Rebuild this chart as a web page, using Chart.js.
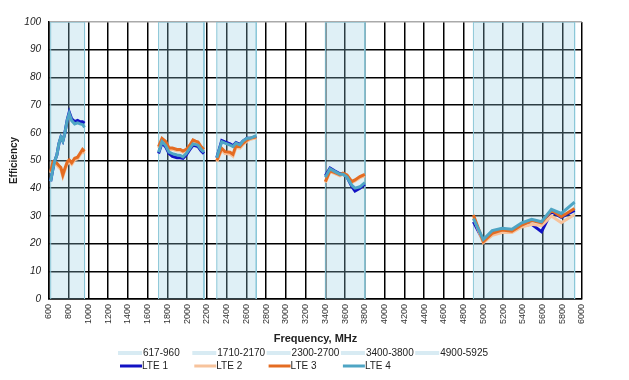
<!DOCTYPE html>
<html><head><meta charset="utf-8">
<script src="https://cdn.jsdelivr.net/npm/chart.js@4/dist/chart.umd.min.js"></script>
<style>html,body{margin:0;padding:0;background:#fff}</style>
</head><body>
<canvas id="c" width="629" height="380"></canvas>
<script>
// ---- Data ----
const bandLabels = ['617-960', '1710-2170', '2300-2700', '3400-3800', '4900-5925'];
const bandStart = [617, 1710, 2300, 3400, 4900];
const bandEnd = [960, 2170, 2700, 3800, 5925];
const effMin = 0, effMax = 100;

const freqB1 = [617, 640, 660, 680, 700, 720, 740, 760, 785, 805, 830, 860, 890, 915, 940, 960];
const freqB2 = [1710, 1745, 1780, 1816, 1850, 1897, 1930, 1957, 1990, 2028, 2059, 2085, 2110, 2140, 2170];
const freqB3 = [2300, 2350, 2383, 2434, 2464, 2494, 2535, 2565, 2606, 2636, 2670, 2700];
const freqB4 = [3400, 3447, 3497, 3548, 3578, 3619, 3669, 3700, 3750, 3800];
const freqB5 = [4900, 5000, 5090, 5190, 5290, 5390, 5490, 5590, 5690, 5790, 5925];

const lte1 = [
  [42.5, 47, 50, 52, 56, 58.4, 57, 59.8, 64.8, 67.5, 65, 64, 64.5, 64, 64, 63.5],
  [52.5, 56.3, 55, 52.5, 51.5, 51, 51, 50.8, 52, 54, 55.5, 55.3, 55, 53.5, 52.5],
  [51, 57.2, 56.7, 56, 55.3, 56.5, 55.8, 57, 58, 58, 58.3, 58.7],
  [44.5, 47.3, 46.2, 45.2, 45.2, 44, 40.5, 39, 40, 41.5],
  [27.9, 21, 24, 25, 24.8, 26.5, 27, 24.3, 31.5, 29.5, 32]
];
const lte2 = [
  [45.5, 49, 48.6, 48.3, 47.5, 46.8, 44.2, 46.4, 48.8, 49.5, 48.6, 50.2, 50.6, 52, 53.2, 52.6],
  [54.5, 57.5, 56.5, 54, 54, 53.5, 53.5, 53, 53.5, 55, 57, 56.5, 56, 54.5, 53.5],
  [49.5, 53.8, 52.5, 52.3, 51.5, 54.7, 54.5, 55.7, 57, 57.6, 57.9, 58],
  [42, 46, 45.3, 44.5, 45, 44.4, 42, 42.6, 43.8, 44.5],
  [29.5, 20.3, 23, 24, 24, 26, 27, 26.5, 30, 27.5, 30.5]
];
const lte3 = [
  [46, 49.5, 49.3, 49, 48.2, 47.5, 44.8, 47, 49.5, 50.2, 49.2, 50.8, 51.2, 52.6, 54, 53.3],
  [55, 58, 57, 54.5, 54.5, 54, 54, 53.4, 54, 55.6, 57.4, 57, 56.7, 55, 54],
  [50, 54.4, 53.2, 53, 52.2, 55.3, 55, 56.2, 57.4, 58, 58.3, 58.5],
  [42.4, 46.3, 45.6, 44.8, 45.4, 44.8, 42.4, 43, 44.2, 45],
  [30.3, 20.7, 23.7, 24.9, 24.5, 26.7, 28.3, 27.5, 32, 29.7, 32.7]
];
const lte4 = [
  [42.5, 47, 50, 52, 56, 58.4, 57, 59.8, 64.6, 67, 64.4, 63.2, 63.6, 63.2, 63, 62],
  [53, 56.8, 55.5, 53, 52.5, 52, 51.8, 51.3, 52.5, 54.5, 56, 55.8, 55.5, 54, 53],
  [51, 56.8, 56.3, 55.6, 55, 56.3, 55.6, 57, 58, 58, 58.5, 59],
  [44, 47, 46, 45, 45, 44, 41, 40, 40.5, 42],
  [29, 21.5, 24.7, 25.5, 25.2, 27.5, 28.8, 27.9, 32.4, 30.9, 35]
];
const seriesLabels = ['LTE 1', 'LTE 2', 'LTE 3', 'LTE 4'];
const xTickMin = 600, xTickMax = 6000, xTickStep = 200;
const yTickStep = 10;

// ---- Build ----
const freqBands = [freqB1, freqB2, freqB3, freqB4, freqB5];
function toPoints(vals) {
  const out = [];
  freqBands.forEach((fs, b) => {
    fs.forEach((f, i) => out.push({x: f, y: vals[b][i]}));
    out.push({x: fs[fs.length - 1], y: null});
  });
  return out;
}
const bandFill = 'rgba(150,205,225,0.30)';
const bandEdge = '#8cc7d8';
const datasets = [];
bandLabels.forEach((lab, i) => {
  datasets.push({
    label: lab, kind: 'band',
    data: [{x: bandStart[i], y: effMin}, {x: bandStart[i], y: effMax}, {x: bandEnd[i], y: effMax}, {x: bandEnd[i], y: effMin}],
    borderColor: bandEdge, borderWidth: 1, backgroundColor: bandFill, fill: 'origin',
    pointRadius: 0, order: 10
  });
});
const lteColors = ['#1212c4', '#f7c39c', '#e46c22', '#4ea5c4'];
const lteData = [lte1, lte2, lte3, lte4];
const lteOrder = [4, 3, 2, 1];
lteData.forEach((v, i) => {
  datasets.push({
    label: seriesLabels[i], kind: 'lte',
    data: toPoints(v), borderColor: lteColors[i], borderWidth: 3,
    pointRadius: 0, fill: false, spanGaps: false, tension: 0, order: lteOrder[i]
  });
});

const legendPlugin = {
  id: 'customLegend',
  afterDraw(chart) {
    const ctx = chart.ctx;
    ctx.save();
    ctx.font = '10px "Liberation Sans", Arial, sans-serif';
    ctx.textBaseline = 'middle';
    ctx.fillStyle = '#222';
    const bands = chart.data.datasets.filter(d => d.kind === 'band');
    const ltes = chart.data.datasets.filter(d => d.kind === 'lte');
    bands.forEach((d, i) => {
      const x = 118 + i * 74.3, y = 353;
      ctx.strokeStyle = '#d8ebf3'; ctx.lineWidth = 4;
      ctx.beginPath(); ctx.moveTo(x, y); ctx.lineTo(x + 24, y); ctx.stroke();
      ctx.fillText(d.label, x + 25, y);
    });
    ltes.forEach((d, i) => {
      const x = 120 + i * 74.3, y = 366;
      ctx.strokeStyle = d.borderColor; ctx.lineWidth = 3;
      ctx.beginPath(); ctx.moveTo(x, y); ctx.lineTo(x + 22, y); ctx.stroke();
      ctx.fillText(d.label, x + 22, y);
    });
    ctx.restore();
  }
};

new Chart(document.getElementById('c'), {
  type: 'line',
  data: {datasets},
  plugins: [legendPlugin],
  options: {
    responsive: false, animation: false, devicePixelRatio: 1,
    layout: {padding: {left: 8, right: 47, top: 22, bottom: 30}},
    plugins: {legend: {display: false}, tooltip: {enabled: false}},
    scales: {
      x: {
        type: 'linear', min: xTickMin, max: xTickMax,
        afterFit: s => { s.height = 51; },
        ticks: {stepSize: xTickStep, autoSkip: false, minRotation: 90, maxRotation: 90, padding: 5,
          color: '#333', font: {family: '"Liberation Sans", Arial, sans-serif', size: 9},
          callback: v => String(v)},
        grid: {color: '#000', lineWidth: 1.5, drawTicks: false},
        border: {color: '#000', width: 1.5},
        title: {display: true, text: 'Frequency, MHz', color: '#222',
          font: {family: '"Liberation Sans", Arial, sans-serif', size: 11, weight: 'bold'}, padding: {top: 0, bottom: 4}}
      },
      y: {
        min: effMin, max: effMax,
        afterFit: s => { s.width = 41; },
        ticks: {stepSize: yTickStep, padding: 8, color: '#222',
          font: {family: '"Liberation Sans", Arial, sans-serif', size: 10, style: 'italic'}},
        grid: {color: ctx => ctx.tick && ctx.tick.value === effMax ? '#aaa' : '#000', lineWidth: 1.5, drawTicks: false},
        border: {color: '#000', width: 1.5},
        title: {display: true, text: 'Efficiency', color: '#222',
          font: {family: '"Liberation Sans", Arial, sans-serif', size: 10, weight: 'bold'}, padding: 0}
      }
    }
  }
});
</script>
</body></html>
